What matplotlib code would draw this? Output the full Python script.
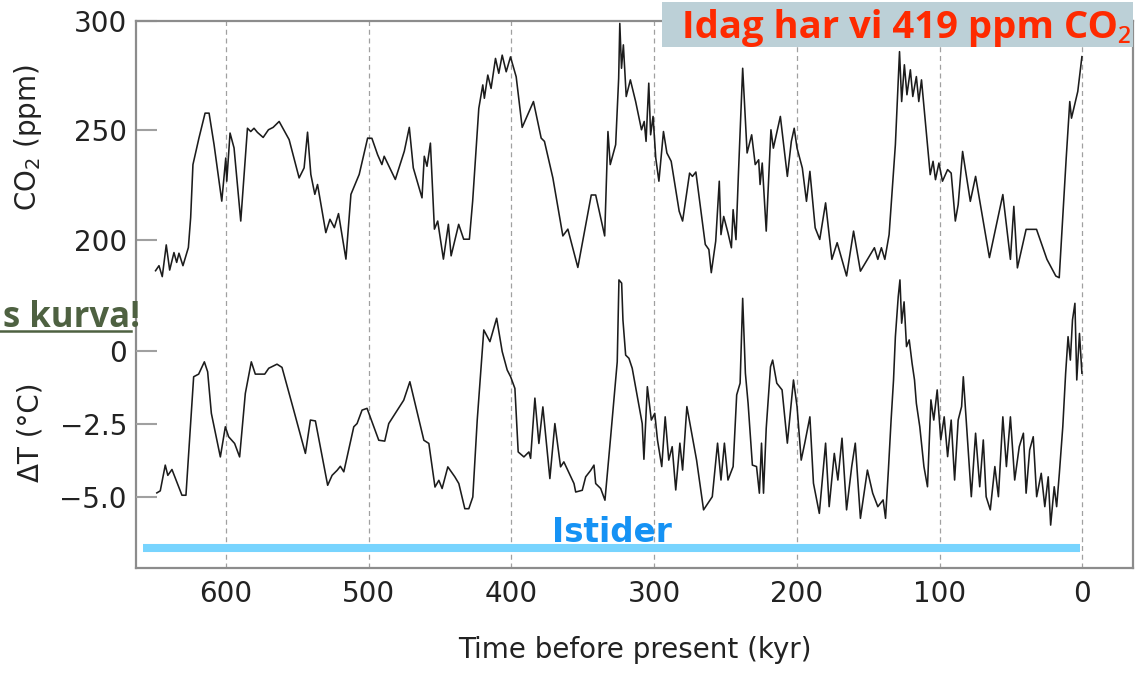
import matplotlib.pyplot as plt
from matplotlib.patches import Rectangle
from matplotlib.lines import Line2D

# CO2 record: age (kyr before present) and concentration (ppm)
co2_age = [
    649.4, 647.0, 644.7, 641.9, 639.5, 636.5, 634.6, 633.0, 630.2, 626.4,
    624.8, 623.2, 619.0, 614.7, 611.9, 608.4, 603.0, 600.2, 599.5, 597.2,
    594.4, 589.7, 585.0, 582.7, 580.4, 578.0, 574.0, 570.3, 567.0, 562.8,
    555.8, 548.8, 545.3, 542.9, 540.6, 537.8, 535.9, 530.1, 527.2, 524.1,
    521.2, 516.0, 512.5, 506.7, 500.8, 497.8, 493.8, 490.8, 489.2, 481.4,
    475.1, 471.6, 468.8, 462.7, 461.1, 459.2, 456.8, 454.0, 451.7, 447.7,
    444.2, 442.3, 437.0, 433.5, 429.5, 427.2, 422.9, 420.1, 419.0, 416.6,
    414.3, 411.2, 408.9, 406.5, 403.7, 400.7, 396.7, 392.5, 384.6, 379.2,
    376.9, 371.0, 364.0, 360.5, 353.5, 344.1, 341.0, 334.7, 332.4, 330.8,
    327.0, 324.9, 324.1, 322.9, 321.6, 319.6, 316.7, 313.0, 308.9, 307.0,
    305.7, 303.8, 302.5, 300.8, 298.9, 296.7, 293.5, 291.1, 288.1, 282.5,
    280.1, 275.2, 273.2, 270.8, 264.2, 261.7, 260.0, 256.9, 254.4, 253.2,
    251.3, 248.3, 245.9, 244.7, 242.7, 241.0, 238.0, 234.9, 231.7, 229.2,
    226.8, 225.8, 224.3, 221.5, 218.2, 216.5, 211.6, 206.7, 203.9, 201.9,
    199.9, 196.2, 193.3, 190.9, 187.2, 184.0, 179.9, 175.5, 171.8, 165.2,
    160.3, 155.5, 145.7, 143.3, 140.8, 138.4, 135.4, 131.0, 128.1, 126.6,
    124.7, 122.9, 120.5, 118.8, 116.3, 114.6, 112.7, 106.6, 104.6, 102.9,
    100.5, 98.0, 94.4, 91.9, 89.0, 87.0, 83.9, 78.5, 74.8, 65.1,
    55.7, 50.4, 48.0, 45.5, 39.4, 32.1, 24.8, 18.6, 16.2, 11.3,
    8.8, 7.6, 3.2, 0.3,
]
co2_ppm = [
    185.9, 188.2, 183.2, 197.7, 186.2, 194.2, 189.7, 193.9, 188.2, 196.5,
    210.2, 234.4, 246.5, 257.9, 257.9, 243.5, 217.7, 237.4, 226.8, 248.8,
    242.0, 208.6, 251.0, 249.5, 251.0, 249.1, 246.8, 250.3, 251.4, 254.1,
    245.8, 228.3, 232.9, 249.2, 229.9, 220.8, 225.3, 203.3, 209.4, 205.6,
    212.0, 191.2, 220.8, 229.9, 246.5, 246.4, 238.9, 234.4, 238.2, 227.6,
    240.5, 251.4, 232.9, 219.2, 238.2, 233.6, 244.2, 204.9, 208.6, 191.2,
    207.1, 192.7, 207.1, 200.3, 200.3, 217.7, 260.1, 270.8, 264.7, 275.3,
    269.2, 282.9, 276.1, 284.4, 276.8, 283.6, 274.5, 251.4, 263.2, 246.5,
    245.0, 228.3, 201.8, 204.9, 187.4, 220.5, 220.5, 201.8, 249.5, 234.4,
    243.5, 273.8, 298.9, 278.4, 289.1, 265.5, 273.1, 263.2, 250.3, 254.1,
    245.0, 271.6, 248.0, 256.4, 237.4, 226.8, 249.5, 239.7, 235.9, 213.1,
    208.6, 230.5, 229.0, 231.0, 197.9, 195.6, 185.0, 199.4, 226.8, 202.4,
    210.7, 203.2, 196.4, 213.8, 200.1, 229.8, 278.4, 239.7, 248.0, 234.4,
    236.6, 225.3, 235.1, 204.0, 250.3, 241.9, 256.4, 229.0, 245.0, 251.0,
    241.9, 232.8, 217.6, 231.3, 205.5, 200.2, 216.9, 191.1, 198.7, 183.5,
    204.0, 185.7, 196.4, 191.1, 196.4, 191.1, 202.4, 243.5, 286.0, 263.2,
    280.0, 266.3, 277.7, 265.5, 274.6, 263.2, 273.1, 229.8, 235.9, 227.5,
    235.1, 226.8, 232.1, 230.5, 208.6, 216.1, 240.4, 217.6, 229.0, 191.9,
    220.7, 191.1, 215.3, 187.2, 204.8, 204.8, 191.1, 183.5, 182.7, 237.4,
    263.2, 255.6, 267.8, 283.7,
]

# temperature anomaly record: age (kyr) and dT (deg C)
temp_age = [
    648.5, 646.1, 642.6, 640.8, 637.9, 630.9, 628.1, 622.7, 619.2, 615.2,
    612.9, 610.3, 604.0, 600.5, 598.2, 594.0, 590.5, 586.5, 582.3, 579.5,
    572.9, 570.1, 564.3, 560.8, 552.6, 544.4, 540.9, 537.4, 528.8, 525.7,
    522.2, 519.9, 517.5, 510.5, 508.2, 504.7, 501.2, 493.0, 488.8, 486.0,
    475.5, 471.2, 461.4, 457.9, 453.6, 450.9, 448.6, 444.6, 439.7, 436.9,
    432.7, 429.9, 427.1, 424.0, 419.4, 415.1, 410.4, 406.5, 403.0, 400.6,
    397.6, 395.3, 391.3, 387.8, 386.6, 383.6, 380.8, 378.0, 373.1, 369.6,
    365.6, 363.3, 356.2, 355.0, 350.4, 348.0, 344.5, 342.2, 341.0, 337.5,
    334.5, 330.5, 325.9, 324.7, 322.8, 321.9, 320.0, 317.7, 315.4, 311.8,
    308.4, 307.2, 304.8,
    302.0, 299.6, 297.7, 294.7, 292.3, 289.8, 287.4, 284.9, 282.0, 280.1,
    277.1, 270.3, 265.4, 259.3, 255.6, 253.2, 250.8, 248.3, 244.7, 242.2,
    239.8, 238.0, 236.1, 234.2, 231.2, 228.3, 226.3, 224.8, 223.4, 221.5,
    218.5, 217.0, 214.1, 210.4, 206.7, 202.4, 199.9, 197.0, 194.5, 190.9,
    188.4, 184.3, 179.9, 177.4, 173.8, 171.3, 168.4, 165.2, 161.6, 159.1,
    155.5, 150.6, 146.9, 143.3, 139.6, 137.9, 135.9, 134.0, 132.3, 131.0,
    129.0, 127.8, 126.6, 124.9, 123.2, 121.3, 119.3, 117.6, 116.3, 113.9,
    111.0, 108.5, 106.1, 104.1, 101.7, 99.2, 96.8, 94.4, 91.9, 89.5,
    87.0, 84.6, 83.4, 80.9, 77.8, 74.8, 71.9, 69.4, 67.4, 64.5,
    61.3, 58.8, 55.7, 53.2, 50.4, 47.4, 44.2, 41.3, 39.4, 36.9,
    34.4, 32.0, 28.8, 26.3, 23.9, 22.2, 19.7, 18.0, 16.1, 13.7,
    11.7, 10.0, 8.4, 6.9, 5.2, 3.9, 2.0, 0.3,
]
temp_dT = [
    -4.85, -4.78, -3.90, -4.25, -4.05, -4.93, -4.93, -0.88, -0.79, -0.37,
    -0.71, -2.13, -3.62, -2.59, -2.93, -3.16, -3.62, -1.45, -0.37, -0.79,
    -0.79, -0.59, -0.45, -0.56, -2.02, -3.50, -2.36, -2.39, -4.59, -4.25,
    -4.08, -3.94, -4.13, -2.59, -2.48, -2.02, -1.96, -3.05, -3.08, -2.48,
    -1.68, -1.05, -3.05, -3.16, -4.65, -4.42, -4.70, -3.96, -4.30, -4.53,
    -5.39, -5.39, -4.99, -2.36, 0.72, 0.32, 1.12, -0.02, -0.65, -0.88,
    -1.28, -3.45, -3.62, -3.45, -3.67, -1.61, -3.16, -1.91, -4.36, -2.48,
    -3.96, -3.79, -4.53, -4.82, -4.76, -4.30, -4.08, -3.90, -4.53, -4.70,
    -5.10, -2.93, -0.37, 2.43, 2.32, 1.06, -0.14, -0.25, -0.59, -1.57,
    -2.48, -3.70, -1.22,
    -2.36, -2.13, -3.04, -3.95, -2.25, -3.73, -3.27, -4.75, -3.15, -4.07,
    -1.90, -3.73, -5.43, -4.98, -3.15, -4.41, -3.15, -4.41, -3.95, -1.50,
    -1.10, 1.80, -0.76, -1.79, -3.90, -3.95, -4.86, -3.15, -4.86, -2.64,
    -0.54, -0.31, -1.10, -1.33, -3.15, -0.99, -1.90, -3.73, -3.15, -2.25,
    -4.52, -5.55, -3.15, -5.32, -3.50, -4.41, -2.98, -5.43, -3.95, -3.15,
    -5.72, -4.07, -4.86, -5.32, -5.09, -5.72, -4.07, -2.36, -0.99, 0.49,
    1.86, 2.43, 0.95, 1.68, 0.15, 0.38, -0.42, -0.99, -1.79, -2.59,
    -3.95, -4.64, -1.67, -2.36, -1.33, -3.04, -2.25, -3.61, -2.36, -4.41,
    -2.36, -1.90, -0.88, -2.70, -4.98, -2.81, -4.64, -3.04, -4.98, -5.43,
    -3.95, -4.98, -2.25, -3.95, -2.25, -4.41, -3.27, -2.81, -4.86, -3.38,
    -2.93, -4.98, -4.18, -5.32, -4.30, -5.95, -4.64, -5.32, -4.18, -2.59,
    -0.76, 0.49, -0.31, 1.06, 1.63, -0.99, 0.60, -0.76,
]

age_ticks = [600, 500, 400, 300, 200, 100, 0]
co2_ticks = [200, 250, 300]
temp_ticks = [-5.0, -2.5, 0]
temp_ticklabels = ['\u22125.0', '\u22122.5', '0']

# ice-age band
istider_start, istider_end, istider_level = 658, 1.6, -6.73
istider_label_age, istider_label_dT = 329.6, -6.53

W, H = 1144, 675
fig = plt.figure(figsize=(W / 100, H / 100), dpi=100)
ax = fig.add_axes([136 / W, 1 - 567.5 / H, 997 / W, 546.5 / H])
ax2 = ax.twinx()

line_kw = dict(color='#1c1c1c', lw=1.15)
ax.plot(co2_age, co2_ppm, **line_kw)
ax2.plot(temp_age, temp_dT, **line_kw)

ax.set_xlim(663.1, -35.5)
ax.set_ylim(50.3, 300.0)
ax2.set_ylim(-7.40, 11.28)

ax.set_xticks(age_ticks)
ax.set_yticks(co2_ticks)
ax2.set_yticks(temp_ticks)
ax2.set_yticklabels(temp_ticklabels)
ax2.yaxis.tick_left()

ax.grid(axis='x', color='#a0a0a0', lw=0.9, linestyle=(0, (4, 3)))
ax.grid(axis='y', visible=False)

for sp in ax.spines.values():
    sp.set_color('#8c8c8c')
    sp.set_linewidth(1.6)
for sp in ax2.spines.values():
    sp.set_visible(False)

tick_kw = dict(direction='in', length=15, width=1.5, color='#a0a0a0',
               pad=6.5, labelsize=20, labelcolor='#222222')
ax.tick_params(axis='y', **tick_kw)
ax2.tick_params(axis='y', **tick_kw)
ax.tick_params(axis='x', length=0, pad=9, labelsize=20, labelcolor='#222222')

ax.set_ylabel(r'CO$_2$ (ppm)', fontsize=20, color='#222222')
ax.yaxis.set_label_coords(-0.092, 0.786)
ax2.yaxis.set_label_position('left')
ax2.set_ylabel('\u0394T (\u00b0C)', fontsize=20, color='#222222')
ax2.yaxis.set_label_coords(-0.092, 0.248)
ax.set_xlabel('Time before present (kyr)', fontsize=20, color='#222222',
              labelpad=20)

# Istider bar and label
ax2.plot([istider_start, istider_end], [istider_level, istider_level],
         color='#78D4FE', lw=5.8, solid_capstyle='butt')
ax2.text(istider_label_age, istider_label_dT, 'Istider', ha='center',
         va='baseline', fontsize=23.5, family='DejaVu Sans',
         weight='bold', color='#1592F4')

# banner top right
fig.add_artist(Rectangle((662 / W, 1 - 47 / H), 471 / W, 45 / H,
                         transform=fig.transFigure, facecolor='#BCD0D7',
                         edgecolor='none', zorder=5))
fig.text(1131 / W, 1 - 38 / H, 'Idag har vi 419 ppm CO\u2082', ha='right',
         va='baseline', fontsize=27.5, family=['Open Sans', 'Noto Sans'],
         weight='bold', color='#FE2A00', zorder=6)

# clipped caption on the left edge
green = '#4E6141'
fig.text(140 / W, 1 - 327 / H, 's kurva!', ha='right', va='baseline',
         fontsize=25, family=['Open Sans', 'DejaVu Sans'], weight='bold',
         color=green)
fig.add_artist(Line2D([0, 131 / W], [1 - 331 / H] * 2, color=green, lw=1.8))

fig.savefig('out.png', dpi=100)
